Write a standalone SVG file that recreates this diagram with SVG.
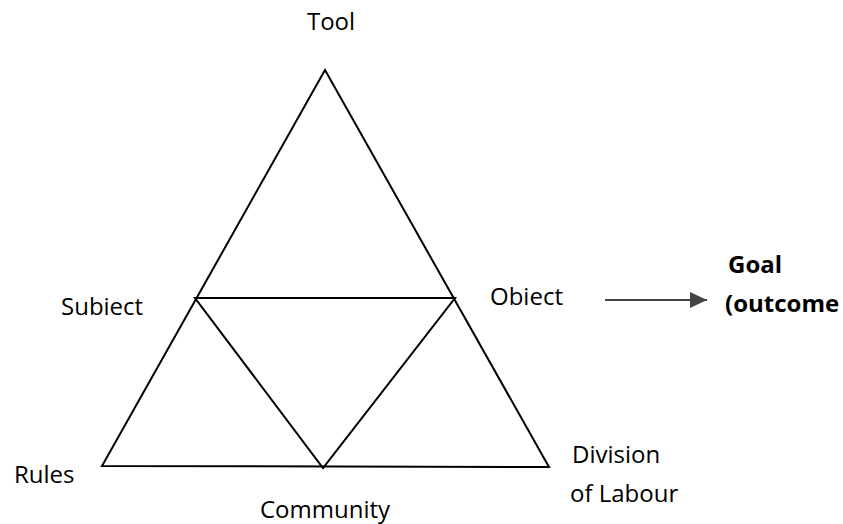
<svg xmlns="http://www.w3.org/2000/svg" width="843" height="524" viewBox="0 0 843 524">
<defs>
<style>
.t{font-family:"Open Sans","Liberation Sans",sans-serif;font-size:24px;fill:#000}
.b{font-weight:bold}
.ln{stroke:#000;stroke-width:2;fill:none;stroke-linejoin:miter}
.ar{stroke:#444;stroke-width:2;fill:none}
</style>
<marker id="ah" markerWidth="18" markerHeight="16" refX="17" refY="8" orient="auto" markerUnits="userSpaceOnUse">
<path d="M0,0 L17,8 L0,16 Z" fill="#444"/>
</marker>
</defs>
<rect width="843" height="524" fill="#fff"/>
<g id="connectors">
<path class="ln" d="M325,70 L102,466 L549,467 Z"/>
<path class="ln" d="M195,298 L455,298 L323,468 Z"/>
<line class="ar" x1="605" y1="300" x2="707" y2="300" marker-end="url(#ah)"/>
</g>
<g id="tool"><text class="t" x="331" y="30" text-anchor="middle">Tool</text></g>
<g id="subject"><text class="t" x="61" y="315">Subiect</text></g>
<g id="object"><text class="t" x="490" y="305">Obiect</text></g>
<g id="goal"><text class="t b" x="728" y="273">Goal</text><text class="t b" x="725" y="312">(outcome</text></g>
<g id="rules"><text class="t" x="14" y="483">Rules</text></g>
<g id="community"><text class="t" x="325" y="518" text-anchor="middle">Community</text></g>
<g id="division"><text class="t" x="572" y="463">Division</text><text class="t" x="570" y="502">of Labour</text></g>
</svg>
